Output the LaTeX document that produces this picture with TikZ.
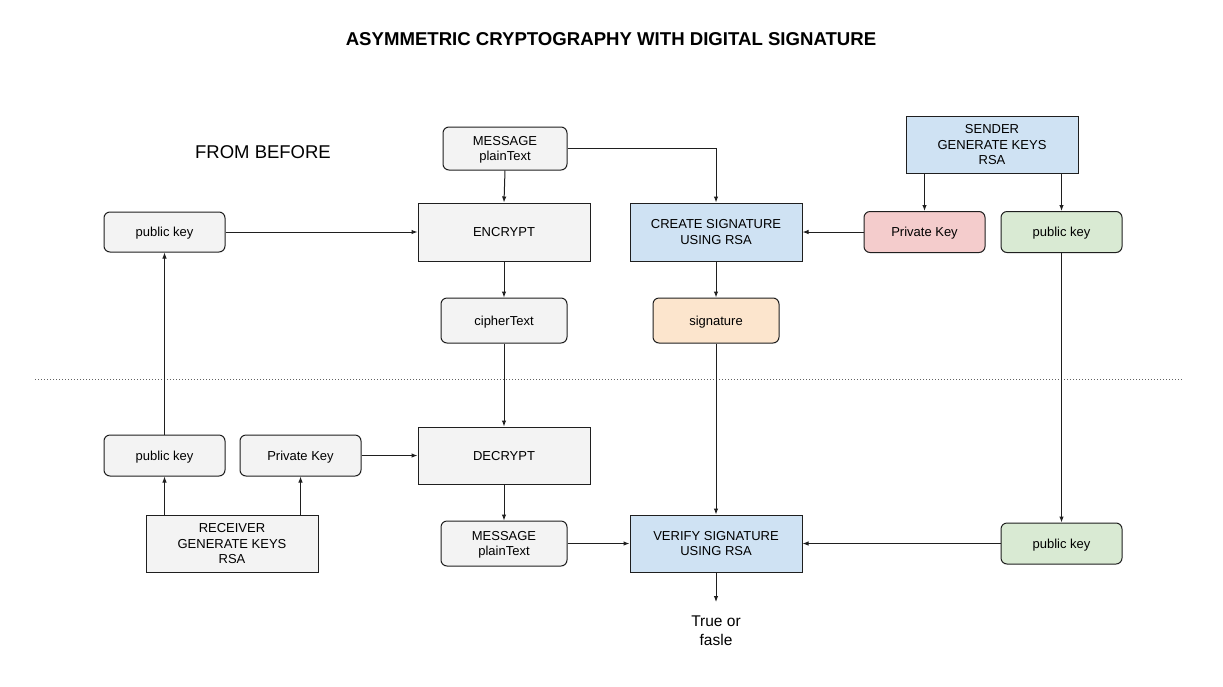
\documentclass[tikz,border=0pt]{standalone}
\usepackage{fontspec}
\setmainfont{Liberation Sans}
\usetikzlibrary{arrows.meta}
\definecolor{cgray}{HTML}{F3F3F3}
\definecolor{cblue}{HTML}{CFE2F3}
\definecolor{cred}{HTML}{F4CCCC}
\definecolor{cgreen}{HTML}{D9EAD3}
\definecolor{corange}{HTML}{FCE5CD}
\definecolor{cline}{HTML}{1F1F1F}
\tikzset{
  box/.style={draw=cline, line width=1pt, inner sep=0pt, align=center, text depth=-3pt, font=\fontsize{13}{15.5}\selectfont, text=black},
  rbox/.style={box, rounded corners=6pt},
  multi/.style={text depth=-5pt},
  arr/.style={draw=cline, line width=1pt, -{Latex[length=6pt,width=4.5pt]}},
}
\begin{document}
\begin{tikzpicture}[x=1pt,y=-1pt]
\useasboundingbox (0,0) rectangle (1223,686);
\fill[white] (0,0) rectangle (1223,686);
% title
\node[font=\bfseries\fontsize{18.6}{22}\selectfont] (title) at (611,39) {ASYMMETRIC CRYPTOGRAPHY WITH DIGITAL SIGNATURE};
\node[font=\fontsize{18.5}{22}\selectfont] (from) at (263,152) {FROM BEFORE};
% top half
\node[rbox, multi, fill=cgray, minimum width=124pt, minimum height=43pt] (msg1) at (505,148.5) {MESSAGE\\plainText};
\node[box, fill=cgray, minimum width=172pt, minimum height=58pt] (enc) at (504,232) {ENCRYPT};
\node[rbox, fill=cgray, minimum width=126pt, minimum height=45pt] (ciph) at (504,320.5) {cipherText};
\node[box, multi, fill=cblue, minimum width=172pt, minimum height=58pt] (create) at (716,232) {CREATE SIGNATURE\\USING RSA};
\node[rbox, fill=corange, minimum width=126pt, minimum height=45pt] (sig) at (716,320.5) {signature};
\node[box, multi, fill=cblue, minimum width=172pt, minimum height=57pt] (sender) at (992,144.5) {SENDER\\GENERATE KEYS\\RSA};
\node[rbox, fill=cred, minimum width=121pt, minimum height=41pt] (privs) at (924.5,232) {Private Key};
\node[rbox, fill=cgreen, minimum width=121pt, minimum height=41pt] (pubs) at (1061.5,232) {public key};
\node[rbox, fill=cgray, minimum width=121pt, minimum height=40pt] (publ) at (164.5,232) {public key};
% divider
\coordinate (dl) at (35,379);
\coordinate (dr) at (1183,379);
\draw[cline!70, line width=0.9pt, dash pattern=on 1pt off 2pt] (dl) -- (dr);
% bottom half
\node[rbox, fill=cgray, minimum width=121pt, minimum height=41pt] (pubr) at (164.5,455.5) {public key};
\node[rbox, fill=cgray, minimum width=121pt, minimum height=41pt] (privr) at (300.5,455.5) {Private Key};
\node[box, fill=cgray, minimum width=172pt, minimum height=57pt] (dec) at (504,455.5) {DECRYPT};
\node[box, multi, fill=cgray, minimum width=172pt, minimum height=57pt] (recv) at (232,543.5) {RECEIVER\\GENERATE KEYS\\RSA};
\node[rbox, multi, fill=cgray, minimum width=126pt, minimum height=45pt] (msg2) at (504,543.5) {MESSAGE\\plainText};
\node[box, multi, fill=cblue, minimum width=172pt, minimum height=57pt] (ver) at (716,543.5) {VERIFY SIGNATURE\\USING RSA};
\node[rbox, fill=cgreen, minimum width=121pt, minimum height=41pt] (pubv) at (1061.5,543.5) {public key};
\coordinate (res) at (716,602);
\node[align=center, font=\fontsize{15.5}{19}\selectfont] (tf) at (716,631) {True or\\fasle};
% connectors
\draw[arr] (msg1.south) -- (enc.north);
\draw[arr] (msg1.east) -| (create.north);
\draw[arr] (publ.east) -- (enc.west |- publ.east);
\draw[arr] (enc.south) -- (ciph.north);
\draw[arr] (ciph.south) -- (dec.north);
\draw[arr] (create.south) -- (sig.north);
\draw[arr] (sig.south) -- (ver.north);
\draw[arr] (privs.west) -- (create.east |- privs.west);
\draw[arr] (privs.north |- sender.south) -- (privs.north);
\draw[arr] (pubs.north |- sender.south) -- (pubs.north);
\draw[arr] (pubs.south) -- (pubv.north);
\draw[arr] (pubv.west) -- (ver.east |- pubv.west);
\draw[arr] (msg2.east) -- (ver.west |- msg2.east);
\draw[arr] (dec.south) -- (msg2.north);
\draw[arr] (privr.east) -- (dec.west |- privr.east);
\draw[arr] (pubr.south |- recv.north) -- (pubr.south);
\draw[arr] (privr.south |- recv.north) -- (privr.south);
\draw[arr] (pubr.north) -- (publ.south);
\draw[arr] (ver.south) -- (res);
\end{tikzpicture}
\end{document}
